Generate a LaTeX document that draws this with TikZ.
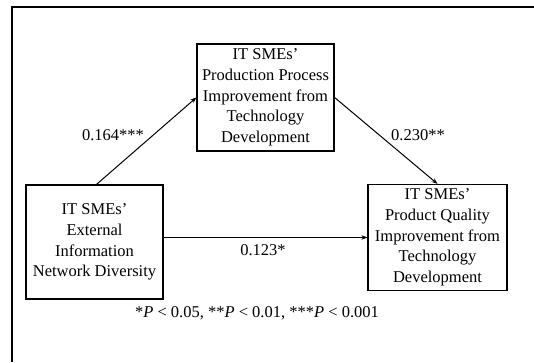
\documentclass[tikz,border=0pt]{standalone}
\usepackage{fontspec}
\setmainfont{Liberation Serif}
\usetikzlibrary{arrows.meta}
\begin{document}
\begin{tikzpicture}[x=1pt,y=-1pt,
  box/.style={draw, line width=1.2pt, align=center, inner sep=0pt,
    font=\fontsize{16.5}{20.7}\selectfont},
  lbl/.style={font=\fontsize{16.5}{20}\selectfont, inner sep=0pt},
  conn/.style={line width=1pt, -{Stealth[length=6pt,width=4.5pt]}}]
\useasboundingbox (0,0) rectangle (534,362);
\draw[line width=1.2pt] (12,362) -- (12,7) -- (534,7);
\node[box, minimum width=137pt, minimum height=107pt] (top) at (265.5,97.5)
  {IT SMEs'\\Production Process\\Improvement from\\Technology\\Development};
\node[box, minimum width=137pt, minimum height=114pt] (left) at (94.5,242)
  {IT SMEs'\\External\\Information\\Network Diversity};
\node[box, minimum width=139pt, minimum height=106pt] (right) at (437.5,237.5)
  {IT SMEs'\\Product Quality\\Improvement from\\Technology\\Development};
\draw[conn] (left.north) ++(2,0) -- (top.west);
\draw[conn] (top.east) -- (right.north);
\draw[conn] (left.east |- right.west) -- (right.west);
\node[lbl] (l1) at (113,135) {0.164***};
\node[lbl] (l2) at (418,135) {0.230**};
\node[lbl] (l3) at (263,250) {0.123*};
\node[lbl] (note) at (257,313) {*{\itshape P} < 0.05, **{\itshape P} < 0.01, ***{\itshape P} < 0.001};
\end{tikzpicture}
\end{document}
